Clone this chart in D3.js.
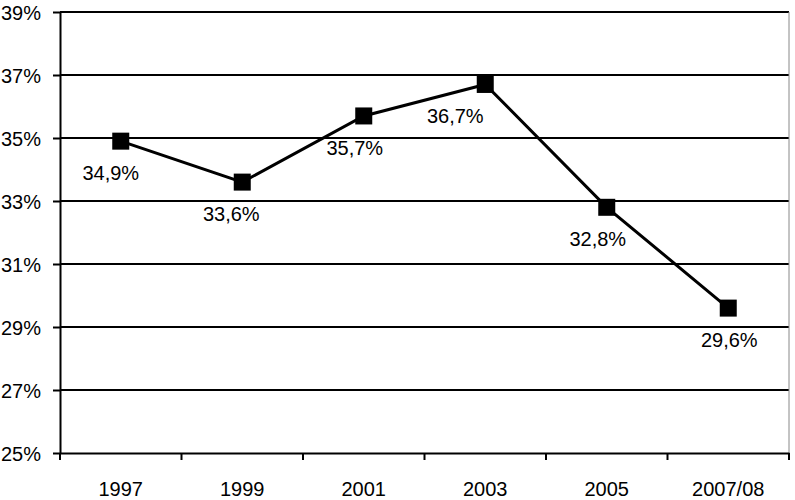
<!DOCTYPE html>
<html><head><meta charset="utf-8">
<script src="https://cdn.jsdelivr.net/npm/d3@7"></script>
<style>body{margin:0;background:#fff}svg{display:block}text{font-family:"Liberation Sans",Arial,Helvetica,sans-serif}</style>
</head><body><svg id="c" width="795" height="500"></svg>
<script>
const categories = ["1997","1999","2001","2003","2005","2007/08"];
const values = [34.9, 33.6, 35.7, 36.7, 32.8, 29.6];
const valueLabels = ["34,9%","33,6%","35,7%","36,7%","32,8%","29,6%"];
const yTicks = [25,27,29,31,33,35,37,39];
const labelDx = [-10,-11,-9,-30,-9,1];

const svg = d3.select("#c");
const m = {l:60, r:6, t:12, b:47};
const W = 795, H = 500;
const x = d3.scaleBand().domain(categories).range([m.l, W-m.r]);
const y = d3.scaleLinear().domain([25,39]).range([H-m.b, m.t]);

// gridlines
svg.append("g").selectAll("line").data(yTicks.filter(d=>d>25)).join("line")
  .attr("x1", m.l).attr("x2", W-m.r).attr("y1", d=>y(d)).attr("y2", d=>y(d))
  .attr("stroke","#000").attr("stroke-width",2);
// right border
svg.append("line").attr("x1",W-m.r).attr("x2",W-m.r).attr("y1",m.t).attr("y2",H-m.b+7)
  .attr("stroke","#888").attr("stroke-width",1);

// y axis
const ya = svg.append("g").attr("transform",`translate(${m.l},0)`)
  .call(d3.axisLeft(y).tickValues(yTicks).tickFormat(d=>d+"%").tickSize(7).tickSizeOuter(0));
ya.select(".domain").attr("stroke","#000").attr("stroke-width",2);
ya.selectAll(".tick line").attr("stroke","#000").attr("stroke-width",2);
ya.selectAll(".tick text").attr("font-size",20).attr("fill","#000").attr("x",-19).attr("dy","0.36em");

// x axis
const xa = svg.append("g").attr("transform",`translate(0,${H-m.b})`)
  .call(d3.axisBottom(x).tickSize(0).tickSizeOuter(0));
xa.select(".domain").attr("stroke","#000").attr("stroke-width",2);
xa.selectAll(".tick text").attr("font-size",20).attr("fill","#000").attr("y",29);
// category boundary ticks
const bounds = categories.map(c=>x(c)).concat([W-m.r]);
svg.append("g").selectAll("line").data(bounds).join("line")
  .attr("x1",d=>d).attr("x2",d=>d).attr("y1",H-m.b).attr("y2",H-m.b+7)
  .attr("stroke","#000").attr("stroke-width",2);

const cx = c => x(c) + x.bandwidth()/2;
const pts = categories.map((c,i)=>({c, v:values[i], lab:valueLabels[i], dx:labelDx[i]}));

svg.append("path").datum(pts)
  .attr("d", d3.line().x(d=>cx(d.c)).y(d=>y(d.v)))
  .attr("fill","none").attr("stroke","#000").attr("stroke-width",3);

const s = 17;
svg.append("g").selectAll("rect").data(pts).join("rect")
  .attr("x", d=>cx(d.c)-s/2).attr("y", d=>y(d.v)-s/2).attr("width",s).attr("height",s).attr("fill","#000");

svg.append("g").selectAll("text").data(pts).join("text")
  .attr("x", d=>cx(d.c)+d.dx).attr("y", d=>y(d.v)+39)
  .attr("text-anchor","middle").attr("font-size",20).attr("fill","#000")
  .text(d=>d.lab);
</script></body></html>
